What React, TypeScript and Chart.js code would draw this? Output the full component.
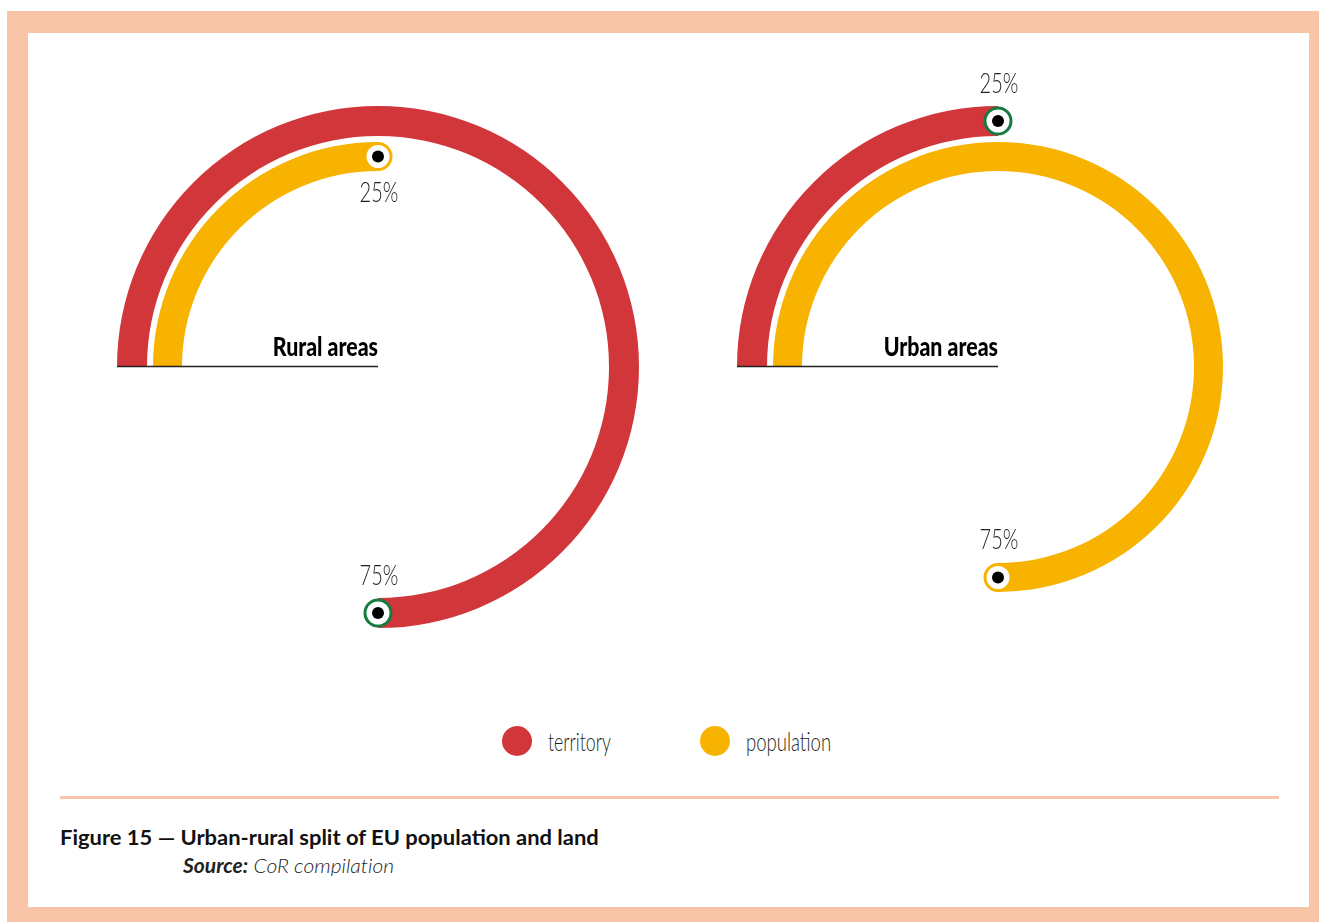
import React, { useEffect, useRef } from "react";
import { Chart, registerables } from "chart.js";

Chart.register(...registerables);

// ---------- data ----------
const categories = ["territory", "population"];
const chartTitles = ["Rural areas", "Urban areas"];
const territoryShares = [75, 25]; // rural, urban
const populationShares = [25, 75]; // rural, urban
// which side of the end marker the percentage label sits (-1 above, +1 below)
const territoryLabelSide = [-1, -1];
const populationLabelSide = [1, -1];

// ---------- styles ----------
const RED = "#d1363a";
const YELLOW = "#f8b200";
const GREEN = "#177a3e";
const PEACH = "#f9c5a9";
const INK = "#231f20";
const CONDENSED = 0.74;

const ringMarks = {
  id: "ringMarks",
  afterDatasetsDraw(chart: any, _args: any, opts: any) {
    const ctx: CanvasRenderingContext2D = chart.ctx;
    const rings = [
      { ds: 0, border: GREEN, side: opts.sides[0] },
      { ds: 2, border: YELLOW, side: opts.sides[1] },
    ];
    let cx = 0, cy = 0, outer = 0;
    rings.forEach((ring, k) => {
      const arc = chart.getDatasetMeta(ring.ds).data[0];
      const p = arc.getProps(["x", "y", "endAngle", "innerRadius", "outerRadius"], true);
      if (k === 0) { cx = p.x; cy = p.y; outer = p.outerRadius; }
      const r = (p.innerRadius + p.outerRadius) / 2;
      const mx = p.x + Math.cos(p.endAngle) * r;
      const my = p.y + Math.sin(p.endAngle) * r;
      ctx.save();
      ctx.beginPath();
      ctx.arc(mx, my, 13, 0, Math.PI * 2);
      ctx.fillStyle = "#ffffff";
      ctx.fill();
      ctx.lineWidth = 3;
      ctx.strokeStyle = ring.border;
      ctx.stroke();
      ctx.beginPath();
      ctx.arc(mx, my, 6, 0, Math.PI * 2);
      ctx.fillStyle = "#000000";
      ctx.fill();
      const value = chart.data.datasets[ring.ds].data[0];
      ctx.translate(mx + 1, my + ring.side * 37);
      ctx.scale(CONDENSED, 1);
      ctx.font = "300 27px Lato";
      ctx.fillStyle = INK;
      ctx.textAlign = "center";
      ctx.textBaseline = "middle";
      ctx.fillText(value + "%", 0, 0);
      ctx.restore();
    });
    // baseline + title
    ctx.save();
    ctx.beginPath();
    ctx.moveTo(cx - outer, cy - 0.5);
    ctx.lineTo(cx, cy - 0.5);
    ctx.lineWidth = 1.6;
    ctx.strokeStyle = "#222";
    ctx.stroke();
    ctx.translate(cx, cy - 11);
    ctx.scale(0.82, 1);
    ctx.font = "900 26px Lato";
    ctx.fillStyle = "#000";
    ctx.textAlign = "right";
    ctx.textBaseline = "alphabetic";
    ctx.fillText(opts.title, 0, 0);
    ctx.restore();
  },
};

function RingChart({ index, left }: { index: number; left: number }) {
  const ref = useRef<HTMLCanvasElement>(null);
  useEffect(() => {
    const t = territoryShares[index];
    const p = populationShares[index];
    const chart = new Chart(ref.current as HTMLCanvasElement, {
      type: "doughnut",
      data: {
        labels: ["share", "rest"],
        datasets: [
          {
            label: categories[0],
            data: [t, 100 - t],
            backgroundColor: [RED, "rgba(0,0,0,0)"],
            borderWidth: 0,
            hoverOffset: 0,
            offset: 0,
            weight: 30,
          } as any,
          {
            label: "gap",
            data: [100],
            backgroundColor: ["rgba(0,0,0,0)"],
            borderWidth: 0,
            hoverOffset: 0,
            offset: 0,
            weight: 6,
          } as any,
          {
            label: categories[1],
            data: [p, 100 - p],
            backgroundColor: [YELLOW, "rgba(0,0,0,0)"],
            borderWidth: 0,
            hoverOffset: 0,
            offset: 0,
            weight: 29,
          } as any,
        ],
      },
      options: {
        responsive: false,
        animation: false,
        events: [],
        rotation: -90,
        circumference: 360,
        cutout: 196,
        layout: { padding: 39 },
        plugins: {
          legend: { display: false },
          tooltip: { enabled: false },
          ringMarks: {
            sides: [territoryLabelSide[index], populationLabelSide[index]],
            title: chartTitles[index],
          },
        } as any,
      },
      plugins: [ringMarks as any],
    });
    return () => chart.destroy();
  }, [index]);
  return (
    <canvas
      ref={ref}
      width={600}
      height={600}
      style={{ position: "absolute", left, top: 67, width: 600, height: 600 }}
    />
  );
}

const condensedText = (extra: React.CSSProperties): React.CSSProperties => ({
  position: "absolute",
  whiteSpace: "nowrap",
  lineHeight: "30px",
  height: 30,
  transformOrigin: "left center",
  color: INK,
  fontVariantLigatures: "none",
  ...extra,
});

export default function App() {
  return (
    <div
      style={{
        position: "absolute",
        left: 0,
        top: 0,
        width: 1319,
        height: 922,
        overflow: "hidden",
        fontFamily: "Lato, 'Open Sans', sans-serif",
        background: "#fff",
        fontVariantLigatures: "none",
      }}
    >
      <div style={{ position: "absolute", left: 7, top: 11, width: 1312, height: 911, background: PEACH }} />
      <div style={{ position: "absolute", left: 28, top: 33, width: 1281, height: 874, background: "#fff" }} />
      <RingChart index={0} left={78} />
      <RingChart index={1} left={698} />

      {/* legend */}
      <div style={{ position: "absolute", left: 502, top: 726, width: 30, height: 30, borderRadius: "50%", background: RED }} />
      <div style={condensedText({ left: 548, top: 726, font: "300 25px Lato", transform: "scaleX(0.71)" })}>
        {categories[0]}
      </div>
      <div style={{ position: "absolute", left: 700, top: 726, width: 30, height: 30, borderRadius: "50%", background: YELLOW }} />
      <div style={condensedText({ left: 746, top: 726, font: "300 25px Lato", transform: `scaleX(${CONDENSED})` })}>
        {categories[1]}
      </div>

      {/* separator */}
      <div style={{ position: "absolute", left: 60, top: 796, width: 1219, height: 3, background: PEACH }} />

      {/* caption */}
      <div
        style={{
          position: "absolute",
          left: 60,
          top: 824,
          lineHeight: "24px",
          font: "bold 21px Lato",
          color: "#111",
          whiteSpace: "nowrap",
          transform: "scaleX(1.045)",
          transformOrigin: "left center",
        }}
      >
        Figure 15 — Urban-rural split of EU population and land
      </div>
      <div
        style={{
          position: "absolute",
          left: 183,
          top: 853,
          lineHeight: "24px",
          fontSize: 20,
          color: "#222",
          whiteSpace: "nowrap",
          fontStyle: "italic",
          transform: "scaleX(1.05)",
          transformOrigin: "left center",
        }}
      >
        <span style={{ fontWeight: 700 }}>Source:</span>
        <span style={{ fontWeight: 300 }}> CoR compilation</span>
      </div>
    </div>
  );
}
